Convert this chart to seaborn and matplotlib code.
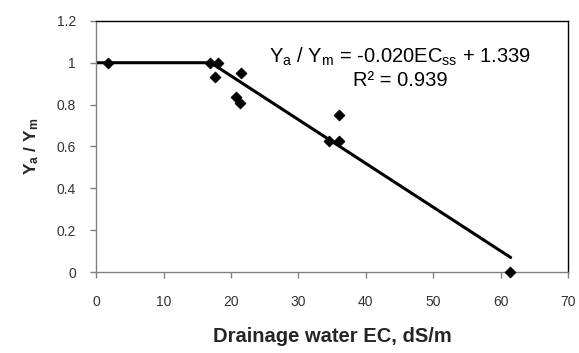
import matplotlib
matplotlib.use("Agg")
import matplotlib.pyplot as plt
import seaborn as sns
import pandas as pd

# measured points: drainage water EC (dS/m) vs relative yield
ec = [1.7, 16.9, 18.1, 17.7, 21.5, 20.7, 21.4, 34.6, 36.0, 36.1, 61.4]
rel_yield = [1.0, 1.0, 1.0, 0.93, 0.95, 0.835, 0.81, 0.625, 0.625, 0.75, 0.0]

# piecewise fit (plateau then linear decline)
fit_ec = [0, 17.0, 61.5]
fit_yield = [1.0, 1.0, 0.07]

x_ticks = [0, 10, 20, 30, 40, 50, 60, 70]
y_ticks = [0, 0.2, 0.4, 0.6, 0.8, 1, 1.2]
y_tick_labels = ['0', '0.2', '0.4', '0.6', '0.8', '1', '1.2']

sns.set_style("white")
plt.rcParams['font.family'] = ['Liberation Sans', 'DejaVu Sans']
plt.rcParams['mathtext.fontset'] = 'custom'
plt.rcParams['mathtext.rm'] = 'Liberation Sans'
plt.rcParams['mathtext.it'] = 'Liberation Sans'
plt.rcParams['mathtext.bf'] = 'Liberation Sans:bold'

pts = pd.DataFrame({'ec': ec, 'y': rel_yield})
fit = pd.DataFrame({'ec': fit_ec, 'y': fit_yield})

fig = plt.figure(figsize=(5.79, 3.53), dpi=100)
ax = fig.add_axes([0.166, 0.229, 0.815, 0.712])

sns.lineplot(data=fit, x='ec', y='y', color='black', linewidth=2.2, ax=ax, zorder=2)
sns.scatterplot(data=pts, x='ec', y='y', marker='D', s=32, color='black',
                edgecolor='black', ax=ax, zorder=3, clip_on=False)

ax.set_xlim(0, 70)
ax.set_ylim(0, 1.2)
ax.set_xticks(x_ticks)
ax.set_yticks(y_ticks)
ax.set_yticklabels(y_tick_labels)
ax.tick_params(axis='both', direction='out', length=4.5, width=1, color='#808080',
               labelsize=10, labelcolor='#333333', left=True, bottom=True)
ax.tick_params(axis='x', pad=12)
ax.tick_params(axis='y', pad=10)

for side in ['left', 'bottom']:
    ax.spines[side].set_color('#808080')
for side in ['top', 'right']:
    ax.spines[side].set_color('black')
for s in ax.spines.values():
    s.set_linewidth(1)

ax.set_xlabel('Drainage water EC, dS/m', fontsize=14.5, fontweight='bold', labelpad=13)
ax.set_ylabel(r'$\mathbf{Y_a\ /\ Y_m}$', fontsize=12.5, labelpad=11)

ax.text(45.1, 1.03, r'Y$_\mathrm{a}$ / Y$_\mathrm{m}$ = -0.020EC$_\mathrm{ss}$ + 1.339',
        ha='center', va='center', fontsize=14.5, color='black')
ax.text(45.1, 0.913, 'R² = 0.939', ha='center', va='center', fontsize=14.5, color='black')

plt.savefig('out.png', dpi=100)
